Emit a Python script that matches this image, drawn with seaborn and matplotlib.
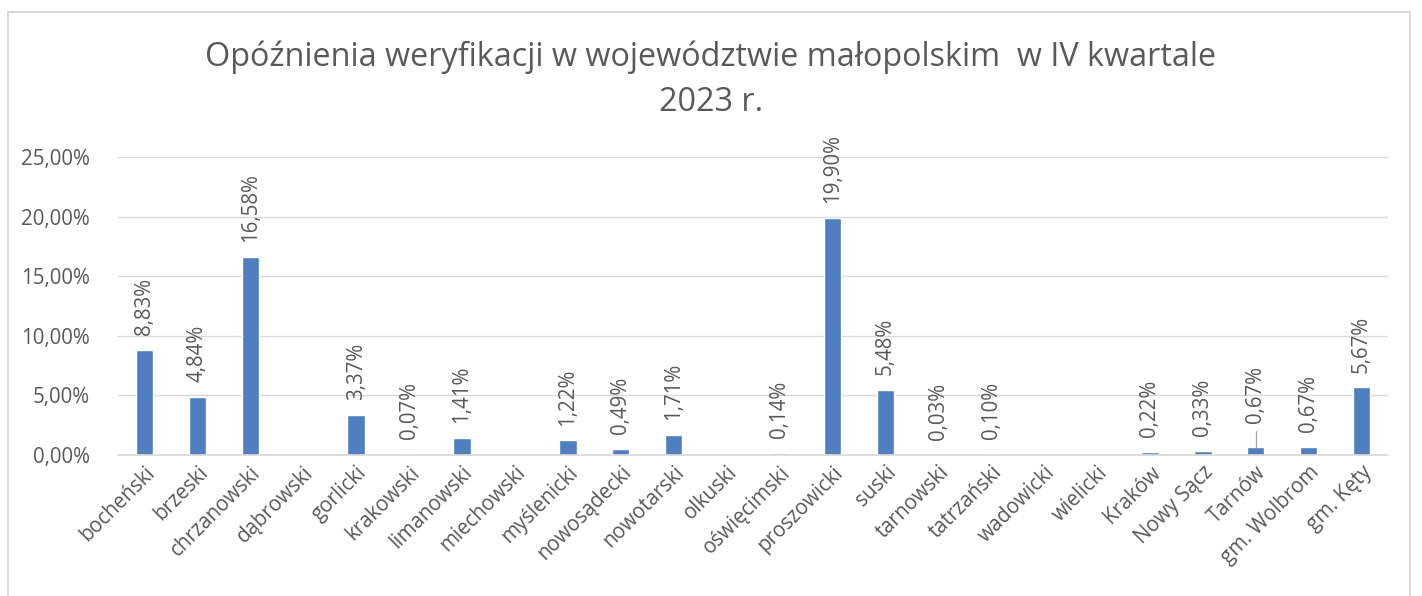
import numpy as np
import pandas as pd
import matplotlib
matplotlib.use('Agg')
import matplotlib.pyplot as plt
import seaborn as sns

# chart data
powiaty = ['bocheński', 'brzeski', 'chrzanowski', 'dąbrowski', 'gorlicki', 'krakowski',
           'limanowski', 'miechowski', 'myślenicki', 'nowosądecki', 'nowotarski', 'olkuski',
           'oświęcimski', 'proszowicki', 'suski', 'tarnowski', 'tatrzański', 'wadowicki',
           'wielicki', 'Kraków', 'Nowy Sącz', 'Tarnów', 'gm. Wolbrom', 'gm. Kęty']
opoznienia = [8.83, 4.84, 16.58, np.nan, 3.37, 0.07,
              1.41, np.nan, 1.22, 0.49, 1.71, np.nan,
              0.14, 19.90, 5.48, 0.03, 0.10, np.nan,
              np.nan, 0.22, 0.33, 0.67, 0.67, 5.67]
y_ticks = [0, 5, 10, 15, 20, 25]

df = pd.DataFrame({'powiat': powiaty, 'pct': opoznienia})

sns.set_theme(style='white')
plt.rcParams['font.family'] = ['Open Sans', 'DejaVu Sans']
TXT = '#595959'
BAR = '#4f7fbe'
FS = 14.8

fig = plt.figure(figsize=(14.22, 5.96), dpi=100)
ax = fig.add_axes([118 / 1422, 1 - 455 / 596, 1270 / 1422, 298 / 596])

sns.barplot(data=df, x='powiat', y='pct', color=BAR, width=0.33,
            saturation=1, ax=ax)
ax.set_ylim(0, 25)
ax.set_xlim(-0.5, len(powiaty) - 0.5)
ax.set_yticks(y_ticks)
ax.set_yticklabels([f'{t:.2f}%'.replace('.', ',') for t in y_ticks])
ax.yaxis.grid(True, color='#d9d9d9', linewidth=1)
ax.set_axisbelow(True)
for s in ['top', 'right', 'left']:
    ax.spines[s].set_visible(False)
ax.spines['bottom'].set_color('#d9d9d9')
ax.set_xlabel('')
ax.set_ylabel('')
ax.tick_params(axis='y', colors=TXT, labelsize=FS, length=0, pad=20)
ax.tick_params(axis='x', colors=TXT, labelsize=FS, length=0, pad=5)
plt.setp(ax.get_xticklabels(), rotation=45, ha='right', rotation_mode='anchor')

# data labels
for i, v in enumerate(opoznienia):
    if np.isnan(v):
        continue
    lab = f'{v:.2f}%'.replace('.', ',')
    off = 1.25
    if powiaty[i] == 'Tarnów':
        # label pushed up, with a leader line like in the original
        off = 2.0
        ax.plot([i, i], [v, v + 1.35], color='#a6a6a6', linewidth=0.9)
    ax.text(i, v + off, lab, rotation=90, ha='center', va='bottom',
            fontsize=FS, color=TXT)

fig.text(711 / 1422, 1 - 57 / 596, 'Opóźnienia weryfikacji w województwie małopolskim  w IV kwartale',
         ha='center', va='center', fontsize=23.3, color=TXT)
fig.text(711 / 1422, 1 - 103 / 596, '2023 r.', ha='center', va='center',
         fontsize=23.3, color=TXT)

# outer chart frame
frame = plt.Rectangle((8 / 1422, -0.05), 1402 / 1422, 1 - 12 / 596 + 0.05,
                      transform=fig.transFigure, fill=False,
                      edgecolor='#d9d9d9', linewidth=1.5)
fig.patches.append(frame)

fig.savefig('out.png', dpi=100)
